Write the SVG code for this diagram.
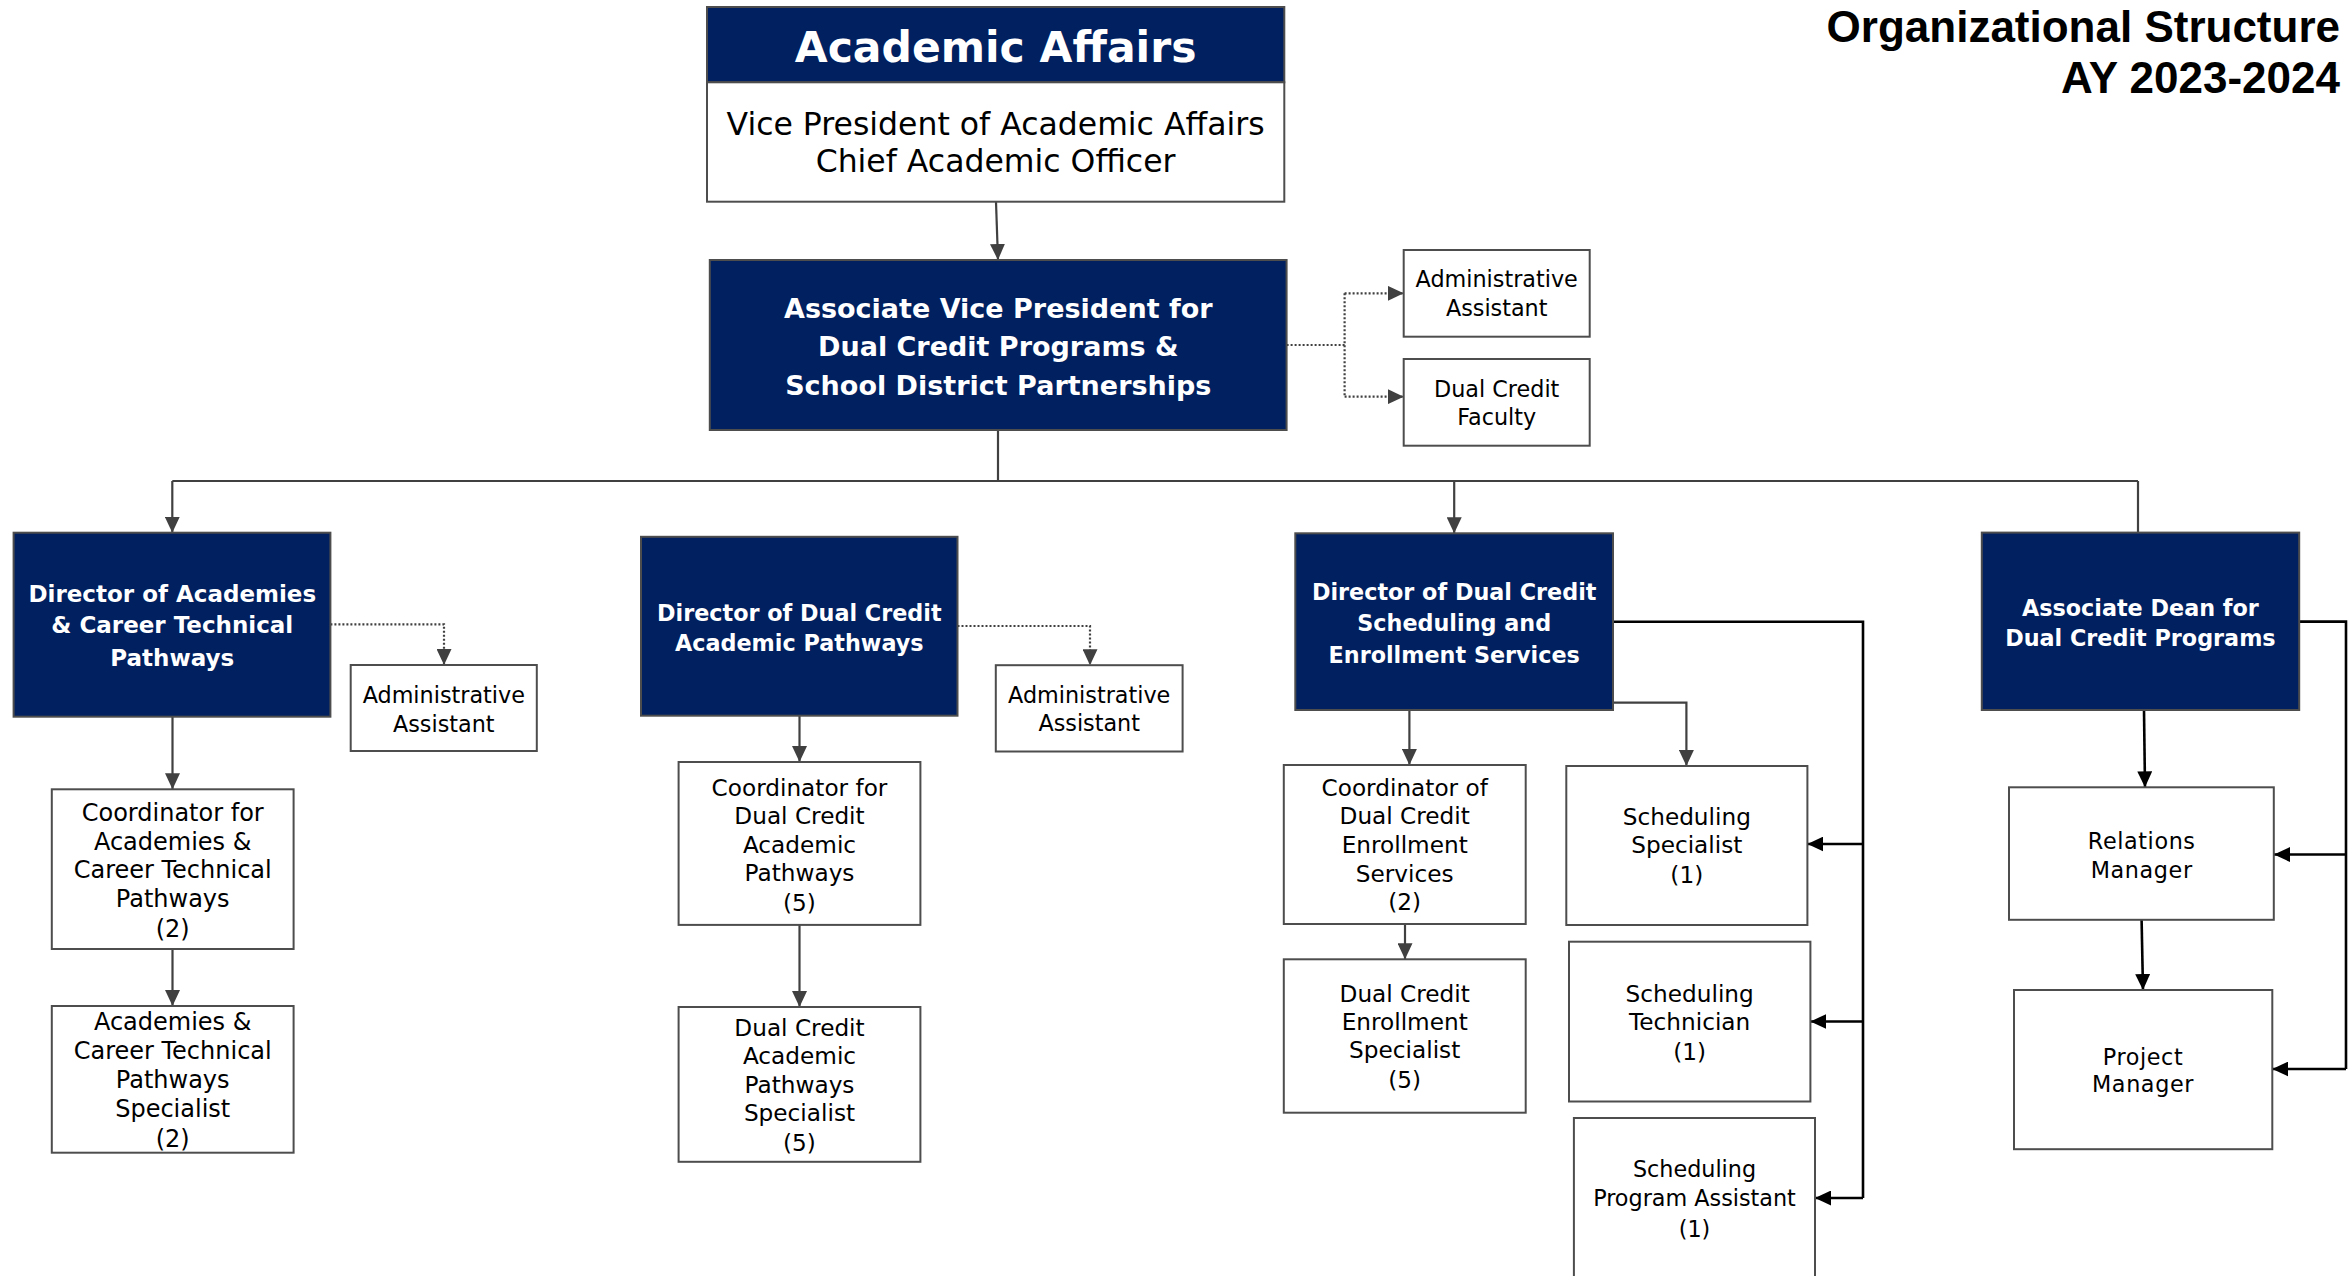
<svg xmlns="http://www.w3.org/2000/svg" width="2348" height="1276" viewBox="0 0 2348 1276">
<style>
.bg{fill:#ffffff}
.navy{fill:#002060;stroke:#4d4d4d;stroke-width:2}
.wbox{fill:#ffffff;stroke:#4d4d4d;stroke-width:2}
.t{font-family:"DejaVu Sans",sans-serif;font-size:23.2px;fill:#000;text-anchor:middle}
.ta{font-family:"DejaVu Sans",sans-serif;font-size:22.3px;fill:#000;text-anchor:middle}
.b{font-family:"DejaVu Sans",sans-serif;font-size:22.3px;font-weight:bold;fill:#fff;text-anchor:middle}
.avp{font-family:"DejaVu Sans",sans-serif;font-size:27px;font-weight:bold;fill:#fff;text-anchor:middle}
.aa{font-family:"DejaVu Sans",sans-serif;font-size:42.5px;font-weight:bold;fill:#fff;text-anchor:middle}
.aas{font-family:"DejaVu Sans",sans-serif;font-size:31.5px;fill:#000;text-anchor:middle}
.ttl{font-family:"Liberation Sans",Arial,sans-serif;font-size:44px;font-weight:bold;fill:#000;text-anchor:end}
.g{fill:none;stroke:#404040;stroke-width:2.2}
.k{fill:none;stroke:#000;stroke-width:2.6}
.d{fill:none;stroke:#404040;stroke-width:2.2;stroke-dasharray:2 2}
</style>
<defs>
<marker id="ag" markerUnits="userSpaceOnUse" markerWidth="16" markerHeight="15" refX="16" refY="7.5" orient="auto"><path d="M0,0 L16,7.5 L0,15 z" fill="#404040"/></marker>
<marker id="ak" markerUnits="userSpaceOnUse" markerWidth="16" markerHeight="15" refX="16" refY="7.5" orient="auto"><path d="M0,0 L16,7.5 L0,15 z" fill="#000"/></marker>
</defs>
<rect class="bg" x="0" y="0" width="2348" height="1276"/>

<g id="title">
<text class="ttl" x="2340" y="42">Organizational Structure</text>
<text class="ttl" x="2340" y="93">AY 2023-2024</text>
</g>

<g id="connectors">
<path class="g" d="M996,202 L998,260" marker-end="url(#ag)"/>
<path class="g" d="M998,430 L998,481"/>
<path class="g" d="M172.3,481 L2138,481"/>
<path class="g" d="M172.3,481 L172.3,532.7" marker-end="url(#ag)"/>
<path class="g" d="M1454.2,481 L1454.2,533.3" marker-end="url(#ag)"/>
<path class="g" d="M2138,481 L2138,532.7"/>
<path class="d" d="M1286.6,345 L1344.6,345 M1344.6,293.3 L1344.6,396.7"/>
<path class="d" d="M1344.6,293.3 L1403.7,293.3" marker-end="url(#ag)"/>
<path class="d" d="M1344.6,396.7 L1403.7,396.7" marker-end="url(#ag)"/>
<path class="d" d="M330.4,624.3 L444,624.3 L444,665" marker-end="url(#ag)"/>
<path class="d" d="M957.5,626 L1090,626 L1090,665.2" marker-end="url(#ag)"/>
<path class="g" d="M172.5,716.7 L172.5,789.3" marker-end="url(#ag)"/>
<path class="g" d="M172.5,949 L172.5,1006" marker-end="url(#ag)"/>
<path class="g" d="M799.5,715.7 L799.5,762" marker-end="url(#ag)"/>
<path class="g" d="M799.5,924.9 L799.5,1007" marker-end="url(#ag)"/>
<path class="g" d="M1409.4,710 L1409.4,765" marker-end="url(#ag)"/>
<path class="g" d="M1422.7,702.7 L1686.4,702.7 L1686.4,766" marker-end="url(#ag)"/>
<path class="g" d="M1405,924 L1405,959.3" marker-end="url(#ag)"/>
<path class="k" d="M1613,621.7 L1863,621.7 L1863,1198"/>
<path class="k" d="M1863,844 L1807.4,844" marker-end="url(#ak)"/>
<path class="k" d="M1863,1021.5 L1810.4,1021.5" marker-end="url(#ak)"/>
<path class="k" d="M1863,1198 L1815,1198" marker-end="url(#ak)"/>
<path class="k" d="M2144,710 L2145,787.3" marker-end="url(#ak)"/>
<path class="k" d="M2141.6,920 L2143,990" marker-end="url(#ak)"/>
<path class="k" d="M2299,621.6 L2346,621.6 L2346,1069"/>
<path class="k" d="M2346,854.5 L2274,854.5" marker-end="url(#ak)"/>
<path class="k" d="M2346,1069 L2272.3,1069" marker-end="url(#ak)"/>
</g>

<g id="academic-affairs">
<rect class="navy" x="707" y="7" width="577.3" height="75.3"/>
<rect class="wbox" x="707" y="82.3" width="577.3" height="119.4"/>
<text class="aa" x="995.6" y="61.7">Academic Affairs</text>
<text class="aas"><tspan x="995.6" y="135">Vice President of Academic Affairs</tspan><tspan x="995.6" y="172.3">Chief Academic Officer</tspan></text>
</g>

<g id="avp">
<rect class="navy" x="709.8" y="260" width="576.8" height="170"/>
<text class="avp"><tspan x="998.3" y="318.3">Associate Vice President for</tspan><tspan x="998.3" y="356">Dual Credit Programs &amp;</tspan><tspan x="998.3" y="395">School District Partnerships</tspan></text>
</g>

<g id="avp-admin">
<rect class="wbox" x="1403.7" y="250" width="186" height="86.7"/>
<text class="ta"><tspan x="1496.7" y="287.3">Administrative</tspan><tspan x="1496.7" y="316">Assistant</tspan></text>
</g>

<g id="dc-faculty">
<rect class="wbox" x="1403.7" y="359" width="186" height="86.7"/>
<text class="ta"><tspan x="1496.7" y="396.7">Dual Credit</tspan><tspan x="1496.7" y="425">Faculty</tspan></text>
</g>

<g id="dir-academies">
<rect class="navy" x="13.6" y="532.7" width="316.8" height="184"/>
<text class="b" style="font-size:23px"><tspan x="172.3" y="601.7">Director of Academies</tspan><tspan x="172.3" y="633.3">&amp; Career Technical</tspan><tspan x="172.3" y="666">Pathways</tspan></text>
</g>

<g id="acad-admin">
<rect class="wbox" x="350.7" y="665" width="186.1" height="86"/>
<text class="ta"><tspan x="443.8" y="703.3">Administrative</tspan><tspan x="443.8" y="731.7">Assistant</tspan></text>
</g>

<g id="acad-coordinator">
<rect class="wbox" x="51.8" y="789.3" width="241.8" height="159.7"/>
<text class="t" style="font-size:24px"><tspan x="172.7" y="821">Coordinator for</tspan><tspan x="172.7" y="850">Academies &amp;</tspan><tspan x="172.7" y="878.3">Career Technical</tspan><tspan x="172.7" y="906.7">Pathways</tspan><tspan x="172.7" y="936.7">(2)</tspan></text>
</g>

<g id="acad-specialist">
<rect class="wbox" x="51.8" y="1006" width="241.8" height="146.7"/>
<text class="t" style="font-size:24px"><tspan x="172.7" y="1030">Academies &amp;</tspan><tspan x="172.7" y="1059">Career Technical</tspan><tspan x="172.7" y="1087.7">Pathways</tspan><tspan x="172.7" y="1116.7">Specialist</tspan><tspan x="172.7" y="1146.7">(2)</tspan></text>
</g>

<g id="dir-dcap">
<rect class="navy" x="641" y="536.8" width="316.5" height="178.9"/>
<text class="b"><tspan x="799.3" y="621">Director of Dual Credit</tspan><tspan x="799.3" y="651.3">Academic Pathways</tspan></text>
</g>

<g id="dcap-admin">
<rect class="wbox" x="995.8" y="665.2" width="186.8" height="86.3"/>
<text class="ta"><tspan x="1089.2" y="703">Administrative</tspan><tspan x="1089.2" y="731.3">Assistant</tspan></text>
</g>

<g id="dcap-coordinator">
<rect class="wbox" x="678.6" y="762" width="241.8" height="162.9"/>
<text class="t"><tspan x="799.5" y="795.7">Coordinator for</tspan><tspan x="799.5" y="823.9">Dual Credit</tspan><tspan x="799.5" y="853.3">Academic</tspan><tspan x="799.5" y="881.1">Pathways</tspan><tspan x="799.5" y="911.4">(5)</tspan></text>
</g>

<g id="dcap-specialist">
<rect class="wbox" x="678.6" y="1007" width="241.8" height="154.8"/>
<text class="t"><tspan x="799.5" y="1035.6">Dual Credit</tspan><tspan x="799.5" y="1063.8">Academic</tspan><tspan x="799.5" y="1093.2">Pathways</tspan><tspan x="799.5" y="1121">Specialist</tspan><tspan x="799.5" y="1151.3">(5)</tspan></text>
</g>

<g id="dir-scheduling">
<rect class="navy" x="1295.3" y="533.3" width="317.7" height="176.7"/>
<text class="b"><tspan x="1454.2" y="600">Director of Dual Credit</tspan><tspan x="1454.2" y="630.7">Scheduling and</tspan><tspan x="1454.2" y="663.3">Enrollment Services</tspan></text>
</g>

<g id="enroll-coordinator">
<rect class="wbox" x="1283.8" y="765" width="241.9" height="159"/>
<text class="t"><tspan x="1404.7" y="795.7">Coordinator of</tspan><tspan x="1404.7" y="824">Dual Credit</tspan><tspan x="1404.7" y="853.3">Enrollment</tspan><tspan x="1404.7" y="881.7">Services</tspan><tspan x="1404.7" y="910">(2)</tspan></text>
</g>

<g id="enroll-specialist">
<rect class="wbox" x="1283.8" y="959.3" width="241.9" height="153.4"/>
<text class="t"><tspan x="1404.7" y="1001.7">Dual Credit</tspan><tspan x="1404.7" y="1030">Enrollment</tspan><tspan x="1404.7" y="1058.3">Specialist</tspan><tspan x="1404.7" y="1088.3">(5)</tspan></text>
</g>

<g id="sched-specialist">
<rect class="wbox" x="1566.3" y="766" width="241.1" height="159"/>
<text class="t"><tspan x="1686.8" y="825">Scheduling</tspan><tspan x="1686.8" y="853.3">Specialist</tspan><tspan x="1686.8" y="883.3">(1)</tspan></text>
</g>

<g id="sched-technician">
<rect class="wbox" x="1569" y="941.7" width="241.4" height="159.8"/>
<text class="t"><tspan x="1689.7" y="1001.7">Scheduling</tspan><tspan x="1689.7" y="1030">Technician</tspan><tspan x="1689.7" y="1060">(1)</tspan></text>
</g>

<g id="sched-program-assistant">
<rect class="wbox" x="1573.9" y="1118" width="241.1" height="180"/>
<text class="ta"><tspan x="1694.5" y="1177.3">Scheduling</tspan><tspan x="1694.5" y="1206">Program Assistant</tspan><tspan x="1694.5" y="1236.7">(1)</tspan></text>
</g>

<g id="assoc-dean">
<rect class="navy" x="1981.8" y="532.6" width="317.4" height="177.4"/>
<text class="b"><tspan x="2140.4" y="616">Associate Dean for</tspan><tspan x="2140.4" y="646.3">Dual Credit Programs</tspan></text>
</g>

<g id="relations-manager">
<rect class="wbox" x="2009" y="787.3" width="264.8" height="132.5"/>
<text class="ta" letter-spacing="0.6"><tspan x="2141.7" y="849.1">Relations</tspan><tspan x="2141.7" y="877.7">Manager</tspan></text>
</g>

<g id="project-manager">
<rect class="wbox" x="2014" y="990" width="258.3" height="159.2"/>
<text class="ta" letter-spacing="0.6"><tspan x="2143" y="1065">Project</tspan><tspan x="2143" y="1092.4">Manager</tspan></text>
</g>
</svg>
